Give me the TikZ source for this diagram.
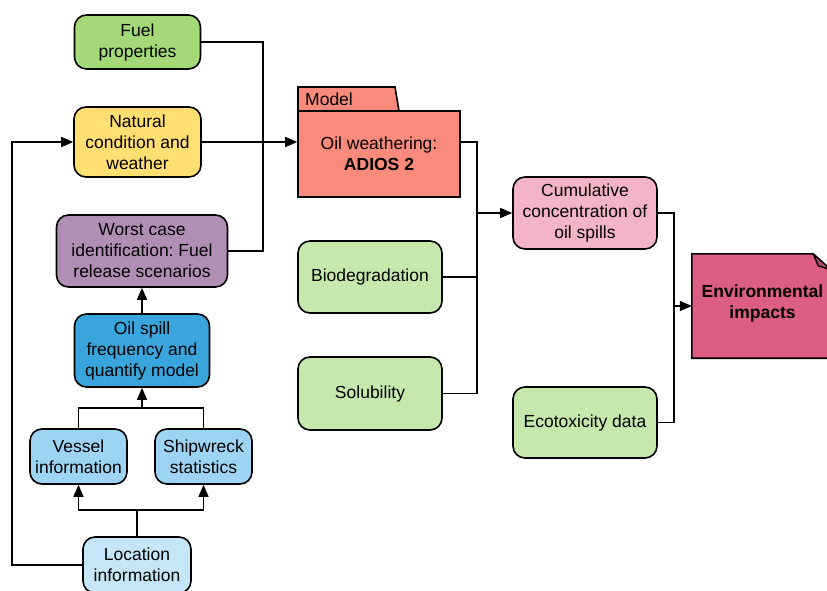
\documentclass[tikz,border=0pt]{standalone}
\usepackage{fontspec}
\setmainfont{Liberation Sans}
\usetikzlibrary{arrows.meta}
\frenchspacing
\definecolor{cFuel}{HTML}{A3D977}
\definecolor{cNat}{HTML}{FFDF71}
\definecolor{cWorst}{HTML}{B18FB5}
\definecolor{cSpill}{HTML}{3AA5DC}
\definecolor{cVessel}{HTML}{9DD3F3}
\definecolor{cLoc}{HTML}{C5E6F7}
\definecolor{cModel}{HTML}{FA8B7C}
\definecolor{cGreen}{HTML}{C7E8AD}
\definecolor{cCum}{HTML}{F4B4C8}
\definecolor{cEnv}{HTML}{DC5E83}
\definecolor{cFold}{HTML}{B04A6A}
\tikzset{
  box/.style={draw=black, line width=1.6pt, rounded corners=12pt, align=center,
    inner sep=0pt, font=\fontsize{17.5}{21}\selectfont},
  link/.style={draw=black, line width=1.4pt},
  arr/.style={link, -{Triangle[length=12pt,width=10pt]}},
}
\begin{document}
\begin{tikzpicture}[x=1pt,y=-1pt]
\useasboundingbox (0,0) rectangle (827,590);
\begin{scope}
\clip (0,0) rectangle (827,590);

% left column
\node[box, fill=cFuel, minimum width=126pt, minimum height=54pt] (fuel) at (137.5,42) {Fuel\\properties};
\node[box, fill=cNat, minimum width=127pt, minimum height=70pt] (nat) at (137.5,142) {Natural\\condition and\\weather};
\node[box, fill=cWorst, minimum width=171pt, minimum height=72pt] (worst) at (142,251) {Worst case\\identification: Fuel\\release scenarios};
\node[box, fill=cSpill, minimum width=135pt, minimum height=73pt] (spill) at (142,350.5) {Oil spill\\frequency and\\quantify model};
\node[box, fill=cVessel, minimum width=97pt, minimum height=55pt] (vessel) at (78.5,456.5) {Vessel\\information};
\node[box, fill=cVessel, minimum width=97pt, minimum height=55pt] (ship) at (203.5,456.5) {Shipwreck\\statistics};
\node[box, fill=cLoc, minimum width=108pt, minimum height=56pt] (loc) at (137,565) {Location\\information};

% model package
\draw[line width=1.6pt, fill=cModel] (298,111) -- (298,87) -- (395,87) -- (399,111) -- cycle;
\node[anchor=west, inner sep=0pt, font=\fontsize{17.5}{21}\selectfont] (modeltab) at (305,99) {Model};
\node[box, rounded corners=0pt, fill=cModel, minimum width=162pt, minimum height=86pt] (model) at (379,154)
  {Oil weathering:\\\textbf{ADIOS 2}};

% middle column
\node[box, fill=cGreen, minimum width=144pt, minimum height=72pt] (bio) at (370,277) {Biodegradation};
\node[box, fill=cGreen, minimum width=144pt, minimum height=73pt] (sol) at (370,393.5) {Solubility};

% right column
\node[box, fill=cCum, minimum width=144pt, minimum height=72pt] (cum) at (585,213) {Cumulative\\concentration of\\oil spills};
\node[box, fill=cGreen, minimum width=144pt, minimum height=71pt] (eco) at (585,422.5) {Ecotoxicity data};

% note with folded corner
\node[minimum width=143pt, minimum height=104pt, inner sep=0pt] (env) at (763.5,306) {};
\draw[line width=1.6pt, fill=cEnv] (env.north west) -- ([xshift=-22pt]env.north east)
  -- ([yshift=-22pt]env.north east) -- (env.south east) -- (env.south west) -- cycle;
\draw[line width=1.4pt, fill=cFold, line join=round] ([xshift=-22pt]env.north east)
  -- ([xshift=-17pt,yshift=-12pt]env.north east) -- ([xshift=-4pt,yshift=-16pt]env.north east) -- cycle;
\node[align=center, inner sep=0pt, font=\fontsize{17.5}{21}\bfseries\selectfont] (envtxt) at (762.5,303) {Environmental\\impacts};

% junction points
\coordinate (jf) at (263,142);
\coordinate (jl) at (12,350);
\coordinate (jb) at (137,510);
\coordinate (jt) at (142,408);
\coordinate (jm) at (477,213);
\coordinate (je) at (674,306);

% connectors
\draw[link] (fuel.east) -- (fuel.east -| jf) -- (worst.east -| jf) -- (worst.east);
\draw[arr] (nat.east) -- (nat.east -| model.west);
\draw[arr] (loc.west) -- (loc.west -| jl) -- (nat.west -| jl) -- (nat.west);
\draw[link] (loc.north) -- (jb);
\draw[arr] (jb) -| (vessel.south);
\draw[arr] (jb) -| (ship.south);
\draw[link] (vessel.north) |- (jt) -| (ship.north);
\draw[arr] (jt) -- (spill.south);
\draw[arr] (spill.north) -- (worst.south);

\draw[link] (nat.east -| model.east) -- (nat.east -| jm) -- (sol.east -| jm) -- (sol.east);
\draw[link] (bio.east) -- (bio.east -| jm);
\draw[arr] (jm) -- (cum.west);

\draw[link] (cum.east) -- (cum.east -| je) -- (eco.east -| je) -- (eco.east);
\draw[arr] (je) -- (env.west);
\end{scope}
\end{tikzpicture}
\end{document}
